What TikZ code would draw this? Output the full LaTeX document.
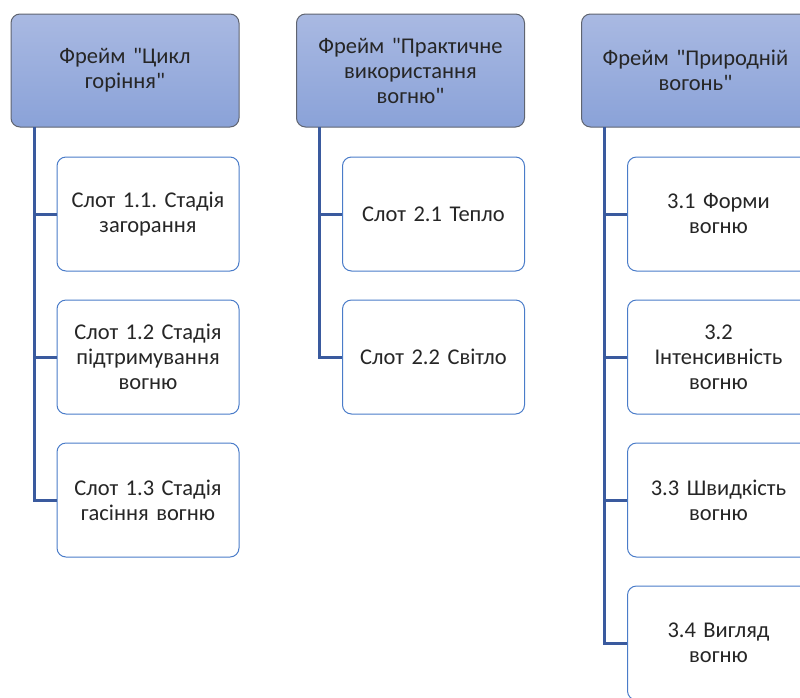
\documentclass[tikz,border=0pt]{standalone}
\usepackage{fontspec}
\newfontfamily\cf{Carlito}
\frenchspacing
\definecolor{hdtop}{HTML}{A9B9E2}
\definecolor{hdbot}{HTML}{8AA2D8}
\definecolor{hdline}{HTML}{5F6470}
\definecolor{slotline}{HTML}{4A7CC9}
\definecolor{conn}{HTML}{3A5A9E}
\definecolor{txt}{HTML}{262626}
\tikzset{
  frame/.style={rounded corners=9pt, draw=hdline, line width=1pt, top color=hdtop, bottom color=hdbot, minimum width=228pt, minimum height=113pt, text width=210pt, align=center, text=txt, font=\cf\fontsize{22.5}{25}\selectfont, inner sep=0pt},
  slot/.style={rounded corners=9pt, draw=slotline, line width=1pt, fill=white, minimum width=182pt, minimum height=114pt, text width=172pt, align=center, text=txt, font=\cf\fontsize{22.5}{25}\selectfont, inner sep=0pt},
  link/.style={draw=conn, line width=3pt}
}
\begin{document}
\begin{tikzpicture}[x=1pt,y=-1pt]
\useasboundingbox (0,0) rectangle (800,697);
\clip (0,0) rectangle (800,697);
% headers
\node[frame] (f1) at (125,70.5) {Фрейм "Цикл\\горіння"};
\node[frame] (f2) at (410.5,70.5) {Фрейм "Практичне\\використання\\вогню"};
\node[frame] (f3) at (695.5,70.5) {Фрейм "Природній\\вогонь"};
% column 1
\node[slot] (s11) at (148,214) {Слот 1.1. Стадія\\загорання};
\node[slot] (s12) at (148,357) {Слот 1.2 Стадія\\підтримування\\вогню};
\node[slot] (s13) at (148,500) {Слот 1.3 Стадія\\гасіння вогню};
% column 2
\node[slot] (s21) at (433.5,214) {Слот 2.1 Тепло};
\node[slot] (s22) at (433.5,357) {Слот 2.2 Світло};
% column 3
\node[slot] (s31) at (718.5,214) {3.1 Форми\\вогню};
\node[slot] (s32) at (718.5,357) {3.2\\Інтенсивність\\вогню};
\node[slot] (s33) at (718.5,500) {3.3 Швидкість\\вогню};
\node[slot] (s34) at (718.5,643) {3.4 Вигляд\\вогню};
% connectors
\coordinate (c1) at (34,127);
\coordinate (c2) at (319,127);
\coordinate (c3) at (604,127);
\draw[link] (c1) |- (s13.west);
\draw[link] (c1 |- s11.west) -- (s11.west);
\draw[link] (c1 |- s12.west) -- (s12.west);
\draw[link] (c2) |- (s22.west);
\draw[link] (c2 |- s21.west) -- (s21.west);
\draw[link] (c3) |- (s34.west);
\draw[link] (c3 |- s31.west) -- (s31.west);
\draw[link] (c3 |- s32.west) -- (s32.west);
\draw[link] (c3 |- s33.west) -- (s33.west);
\end{tikzpicture}
\end{document}
